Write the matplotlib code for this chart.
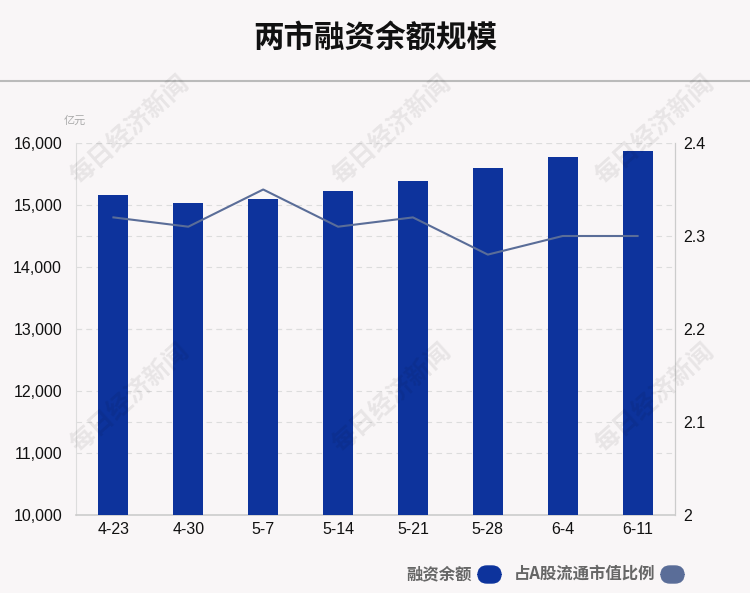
import matplotlib
matplotlib.use("Agg")
import matplotlib.pyplot as plt
import matplotlib.transforms as mtransforms
from matplotlib.patches import FancyBboxPatch

plt.rcParams['font.family'] = ['Noto Sans CJK SC', 'DejaVu Sans']

categories = ['4-23', '4-30', '5-7', '5-14', '5-21', '5-28', '6-4', '6-11']
balance = [15160, 15030, 15100, 15225, 15385, 15595, 15775, 15870]
ratio = [2.32, 2.31, 2.35, 2.31, 2.32, 2.28, 2.30, 2.30]
left_ticks = [10000, 11000, 12000, 13000, 14000, 15000, 16000]
right_ticks = [2.0, 2.1, 2.2, 2.3, 2.4]

bg = '#f9f6f7'
bar_color = '#0d339c'
line_color = '#5a6d98'
num_font = ['Liberation Sans', 'DejaVu Sans']

fig = plt.figure(figsize=(7.5, 5.93), dpi=100, facecolor=bg)
ax = fig.add_axes([76/750, 1-515/593, 599/750, 372/593])
ax.set_facecolor(bg)
ax2 = ax.twinx()
ax2.set_zorder(ax.get_zorder() + 1)

x = list(range(len(categories)))
ax.set_xlim(-0.5, len(categories)-0.5)
ax.set_ylim(10000, 16000)
ax2.set_ylim(2.0, 2.4)

# grids (both axes) drawn beneath bars
ax.hlines(left_ticks[1:], -0.5, len(categories)-0.5, color='#dddddd', lw=0.8,
          linestyles=[(0, (5, 4))], zorder=1)
tr = mtransforms.blended_transform_factory(ax.transAxes, ax2.transData)
ax.hlines(right_ticks[1:], 0, 1, transform=tr, color='#dddddd', lw=0.8,
          linestyles=[(0, (5, 4))], zorder=1)

ax.bar(x, balance, width=0.4, color=bar_color, zorder=3)
ax.set_yticks(left_ticks)
ax.set_yticklabels([f'{v:,}' for v in left_ticks], fontsize=11.5, color='#111111', family=num_font)
ax.set_xticks(x)
ax.set_xticklabels(categories, fontsize=11.5, color='#111111', family=num_font)
ax.tick_params(axis='y', length=0, pad=10)
ax.tick_params(axis='x', length=0, pad=5)
ax.spines['top'].set_visible(False)
ax.spines['left'].set_color('#dddddd')
ax.spines['right'].set_color('#cccccc')
ax.spines['bottom'].set_color('#cccccc')
ax.spines['bottom'].set_linewidth(1.2)

ax2.plot(x, ratio, color=line_color, lw=1.5, zorder=4)
ax2.set_yticks(right_ticks)
ax2.set_yticklabels(['2', '2.1', '2.2', '2.3', '2.4'], fontsize=11.5, color='#111111', family=num_font)
ax2.tick_params(axis='y', length=0, pad=6)
for s in ['top', 'left', 'bottom']:
    ax2.spines[s].set_visible(False)
ax2.spines['right'].set_color('#cccccc')

fig.text(75/750, 1-121/593, '亿元', fontsize=8, color='#aaaaaa', ha='center', va='center')

fig.text(0.5, 1-38/593, '两市融资余额规模', fontsize=22, fontweight='bold', ha='center', va='center', color='#111111')
fig.add_artist(plt.Line2D([0, 1], [1-81/593, 1-81/593], color='#bbbbbb', lw=1.5))

for (wx, wy) in [(130, 130), (392, 130), (655, 130), (130, 398), (392, 398), (655, 398)]:
    fig.text(wx/750, 1-wy/593, '每日经济新闻', fontsize=18, color='#000000', alpha=0.07,
             rotation=42, ha='center', va='center', fontweight='bold')

# legend
fig.text(472/750, 1-574/593, '融资余额', fontsize=11.8, fontweight='bold', color='#666666', ha='right', va='center')
fig.add_artist(FancyBboxPatch((478/750, 1-583/593), 23/750, 17/593,
               boxstyle='round,pad=0,rounding_size=0.012', transform=fig.transFigure,
               color=bar_color, mutation_aspect=750/593))
fig.text(655/750, 1-574/593, '占A股流通市值比例', fontsize=11.8, fontweight='bold', color='#666666', ha='right', va='center')
fig.add_artist(FancyBboxPatch((661/750, 1-583/593), 23/750, 17/593,
               boxstyle='round,pad=0,rounding_size=0.012', transform=fig.transFigure,
               color=line_color, mutation_aspect=750/593))

fig.savefig('out.png', dpi=100, facecolor=bg)
